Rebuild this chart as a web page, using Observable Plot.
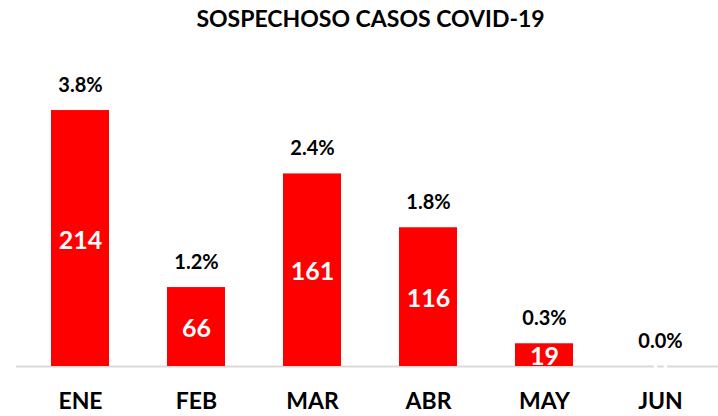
<!DOCTYPE html>
<html><head><meta charset="utf-8">
<script src="https://cdn.jsdelivr.net/npm/d3@7"></script>
<script src="https://cdn.jsdelivr.net/npm/@observablehq/plot@0.6"></script>
<style>body{margin:0;background:#fff;} svg{display:block;}</style>
</head><body><div id="chart"></div>
<script>
const title = "SOSPECHOSO CASOS COVID-19";
const months = ["ENE","FEB","MAR","ABR","MAY","JUN"];
const cases = [214, 66, 161, 116, 19, 0];
const pcts = ["3.8%","1.2%","2.4%","1.8%","0.3%","0.0%"];
const data = months.map((m,i)=>({m, v: cases[i], p: pcts[i]}));
const font = "Lato, 'Open Sans', sans-serif";
const plot = Plot.plot({
  width: 718, height: 416,
  marginTop: 0, marginBottom: 50, marginLeft: 22, marginRight: 0,
  style: {fontFamily: font, background: "#fff"},
  x: {domain: months, paddingInner: 0.5, paddingOuter: 0.25, label: null},
  y: {domain: [0, 306], axis: null},
  marks: [
    Plot.ruleY([0], {stroke: "#d9d9d9", strokeWidth: 2, insetLeft: -6}),
    Plot.barY(data, {x: "m", y: "v", fill: "#ff0000"}),
    Plot.text(data, {x: "m", y: d => d.v/2, text: d => String(d.v), fill: "#fff", fontSize: 25, fontWeight: "bold", dy: 2}),
    Plot.text(data, {x: "m", y: "v", text: "p", fill: "#000", fontSize: 20, fontWeight: "bold", dy: -25}),
    Plot.axisX({tickSize: 0, tickPadding: 26, fontSize: 23, fontWeight: "bold", fill: "#000", label: null}),
    Plot.text([title], {frameAnchor: "top", dy: 19, fontSize: 23, fontWeight: "bold", fill: "#000", lineAnchor: "middle"})
  ]
});
document.getElementById("chart").append(plot);
</script></body></html>
